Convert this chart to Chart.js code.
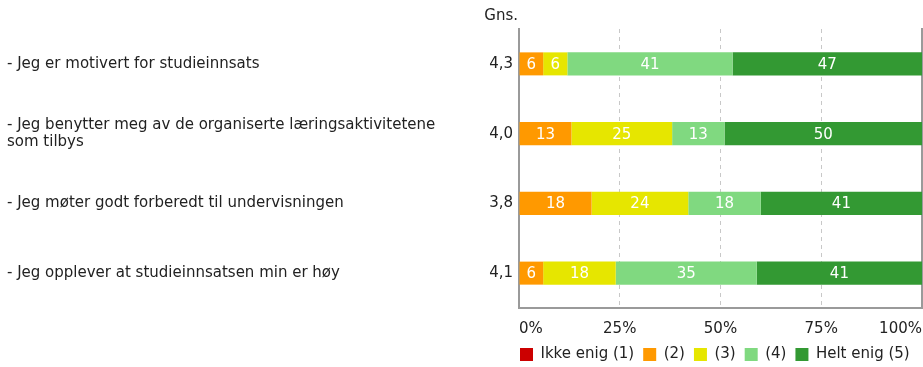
<!DOCTYPE html>
<html>
<head>
<meta charset="utf-8">
<script src="https://cdn.jsdelivr.net/npm/chart.js@4/dist/chart.umd.min.js"></script>
<style>
  html, body { margin: 0; padding: 0; background: #fff; }
  #wrap { width: 923px; height: 367px; }
</style>
</head>
<body>
<div id="wrap"><canvas id="surveyChart"></canvas></div>
<script>
/* ================================
   Data
================================ */
const questions = [
  "- Jeg er motivert for studieinnsats",
  ["- Jeg benytter meg av de organiserte læringsaktivitetene", "som tilbys"],
  "- Jeg møter godt forberedt til undervisningen",
  "- Jeg opplever at studieinnsatsen min er høy"
];
const averages = ["4,3", "4,0", "3,8", "4,1"];

const seriesNames = ["Ikke enig (1)", "(2)", "(3)", "(4)", "Helt enig (5)"];
const seriesColors = ["#cc0000", "#ff9900", "#e6e600", "#80d980", "#339933"];

const answers1 = [0, 0, 0, 0];
const answers2 = [6, 13, 18, 6];
const answers3 = [6, 25, 24, 18];
const answers4 = [41, 13, 18, 35];
const answers5 = [47, 50, 41, 41];

const percentTicks = [0, 25, 50, 75, 100];

const FONT = "'DejaVu Sans', Verdana, sans-serif";
const FONT_SIZE = 15;
const TEXT = "#222";
const AXIS = "#9a9a9a";

/* ================================
   Plugins
================================ */
// white value text inside each segment
const segmentLabels = {
  id: "segmentLabels",
  afterDatasetsDraw(chart) {
    const ctx = chart.ctx;
    ctx.save();
    ctx.font = `${FONT_SIZE}px ${FONT}`;
    ctx.fillStyle = "#fff";
    ctx.textAlign = "center";
    ctx.textBaseline = "middle";
    chart.data.datasets.forEach((ds, i) => {
      const meta = chart.getDatasetMeta(i);
      meta.data.forEach((bar, j) => {
        const v = ds.data[j];
        if (!v) return;
        const right = Math.min(bar.x, chart.chartArea.right);
        ctx.fillText(String(v), (right + bar.base) / 2, bar.y + 1);
      });
    });
    ctx.restore();
  }
};

// "Gns." heading over the average column
const avgHeading = {
  id: "avgHeading",
  afterDraw(chart) {
    const ctx = chart.ctx;
    const scale = chart.scales.y;
    ctx.save();
    ctx.font = `${FONT_SIZE}px ${FONT}`;
    ctx.fillStyle = TEXT;
    ctx.textAlign = "right";
    ctx.textBaseline = "middle";
    ctx.fillText("Gns.", scale.right - 1, 16);
    ctx.restore();
  }
};

// legend starts flush with the plot's left edge
const legendShift = {
  id: "legendShift",
  afterLayout(chart) {
    const lg = chart.legend;
    if (!lg) return;
    const dx = chart.chartArea.left + 1 - (lg.left + lg.options.labels.padding);
    lg.left += dx;
    lg.right += dx;
  }
};

/* ================================
   Chart
================================ */
const seriesData = [answers1, answers2, answers3, answers4, answers5];

new Chart(document.getElementById("surveyChart"), {
  type: "bar",
  data: {
    labels: averages,
    datasets: seriesNames.map((name, i) => ({
      label: name,
      data: seriesData[i],
      backgroundColor: seriesColors[i],
      borderWidth: 0,
      barPercentage: 0.33,
      categoryPercentage: 1
    }))
  },
  options: {
    indexAxis: "y",
    responsive: true,
    maintainAspectRatio: false,
    animation: false,
    layout: { padding: { left: 7, right: 1, top: 29, bottom: -5 } },
    scales: {
      x: {
        stacked: true,
        min: 0,
        max: 100,
        afterBuildTicks(scale) {
          scale.ticks = percentTicks.map(v => ({ value: v }));
        },
        ticks: {
          align: "inner",
          padding: 0,
          color: TEXT,
          font: { family: FONT, size: FONT_SIZE },
          callback: v => v + "%"
        },
        grid: {
          drawTicks: true,
          tickLength: 12,
          tickColor: "rgba(0,0,0,0)",
          color: ctx => (ctx.tick && (ctx.tick.value === 0 || ctx.tick.value === 100)) ? "rgba(0,0,0,0)" : "#c8c8c8"
        },
        border: { display: true, color: AXIS, width: 2, dash: [4, 4] }
      },
      y: {
        stacked: true,
        weight: 0,
        afterFit(scale) { scale.width = 45; },
        ticks: {
          padding: 6,
          color: TEXT,
          font: { family: FONT, size: FONT_SIZE }
        },
        grid: { display: false, drawTicks: false },
        border: { display: true, color: AXIS, width: 2 }
      },
      yq: {
        type: "category",
        position: "left",
        labels: questions,
        offset: true,
        weight: 1,
        afterFit(scale) { scale.width = 467; },
        ticks: {
          crossAlign: "far",
          padding: 0,
          color: TEXT,
          font: { family: FONT, size: FONT_SIZE, lineHeight: 1.07 }
        },
        grid: { display: false, drawTicks: false },
        border: { display: false }
      },
      yr: {
        type: "category",
        position: "right",
        labels: averages,
        afterFit(scale) { scale.width = 0; },
        ticks: { display: false },
        grid: { display: false, drawTicks: false },
        border: { display: true, color: AXIS, width: 2 }
      }
    },
    plugins: {
      legend: {
        position: "bottom",
        align: "start",
        labels: {
          boxWidth: 13,
          boxHeight: 13,
          padding: 9,
          color: TEXT,
          font: { family: FONT, size: FONT_SIZE }
        }
      },
      tooltip: { enabled: false }
    }
  },
  plugins: [segmentLabels, avgHeading, legendShift]
});
</script>
</body>
</html>
